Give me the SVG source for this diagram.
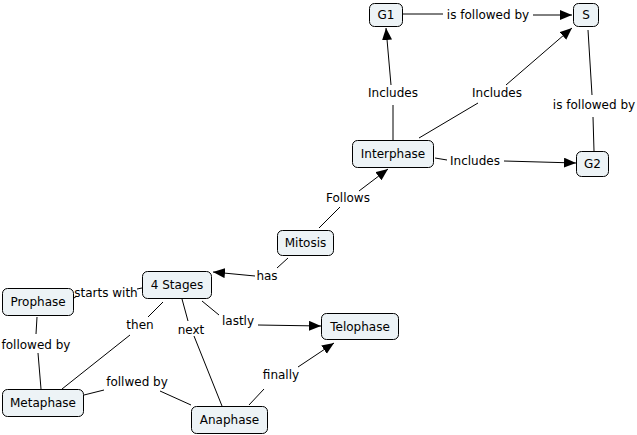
<svg xmlns="http://www.w3.org/2000/svg" width="637" height="435" viewBox="0 0 637 435">
<style>
.node rect{fill:#edf3f6;stroke:#000;stroke-width:1}
text{font-family:"DejaVu Sans",Verdana,sans-serif;font-size:12px;fill:#000;text-anchor:middle}
.conn line{stroke:#000;stroke-width:1}
.arr{marker-end:url(#ah)}
</style>
<defs>
<marker id="ah" markerUnits="userSpaceOnUse" markerWidth="13" markerHeight="11" refX="12" refY="5" orient="auto">
<path d="M0,0 L12,5 L0,10 z" fill="#000"/>
</marker>
</defs>
<rect width="637" height="435" fill="#fff"/>
<g id="connectors" class="conn">
<line x1="403" y1="14" x2="443" y2="14"/>
<line class="arr" x1="533" y1="15" x2="572" y2="15"/>
<line x1="393" y1="140" x2="393" y2="105"/>
<line class="arr" x1="391" y1="85" x2="386" y2="28"/>
<line x1="419" y1="138" x2="478" y2="103"/>
<line class="arr" x1="506" y1="85" x2="572" y2="28"/>
<line x1="588" y1="30" x2="592" y2="95"/>
<line x1="593" y1="117" x2="594" y2="151"/>
<line x1="435" y1="158" x2="447" y2="160"/>
<line class="arr" x1="504" y1="161" x2="576" y2="163"/>
<line x1="319" y1="228" x2="340" y2="207"/>
<line class="arr" x1="359" y1="191" x2="388" y2="169"/>
<line x1="288" y1="258" x2="277" y2="268"/>
<line class="arr" x1="255" y1="276" x2="213" y2="272"/>
<line x1="74" y1="298" x2="77" y2="296"/>
<line x1="137" y1="289" x2="142" y2="288"/>
<line x1="37" y1="317" x2="36" y2="334"/>
<line x1="38" y1="353" x2="41" y2="389"/>
<line x1="163" y1="302" x2="148" y2="317"/>
<line x1="130" y1="335" x2="62" y2="389"/>
<line x1="182" y1="299" x2="188" y2="321"/>
<line x1="194" y1="336" x2="222" y2="406"/>
<line x1="202" y1="301" x2="219" y2="315"/>
<line class="arr" x1="258" y1="325" x2="321" y2="326"/>
<line x1="84" y1="395" x2="104" y2="390"/>
<line x1="160" y1="391" x2="191" y2="405"/>
<line x1="249" y1="405" x2="264" y2="389"/>
<line class="arr" x1="298" y1="367" x2="334" y2="343"/>
</g>
<g id="labels">
<text x="488" y="19">is followed by</text>
<text x="393" y="97">Includes</text>
<text x="497" y="97">Includes</text>
<text x="594" y="109">is followed by</text>
<text x="475" y="165">Includes</text>
<text x="348" y="202">Follows</text>
<text x="267" y="280">has</text>
<text x="106" y="297">starts with</text>
<text x="36" y="349">followed by</text>
<text x="140" y="329">then</text>
<text x="191" y="334">next</text>
<text x="238" y="325">lastly</text>
<text x="137" y="386">follwed by</text>
<text x="281" y="379">finally</text>
</g>
<g id="G1" class="node"><rect x="369.5" y="3.5" width="33" height="23" rx="5"/><text x="386" y="19">G1</text></g>
<g id="S" class="node"><rect x="573.5" y="3.5" width="25" height="23" rx="5"/><text x="586" y="19">S</text></g>
<g id="Interphase" class="node"><rect x="352.5" y="140.5" width="81" height="27" rx="5"/><text x="393" y="158">Interphase</text></g>
<g id="G2" class="node"><rect x="576.5" y="151.5" width="32" height="25" rx="5"/><text x="592.5" y="168">G2</text></g>
<g id="Mitosis" class="node"><rect x="277.5" y="230.5" width="56" height="25" rx="5"/><text x="305.5" y="247">Mitosis</text></g>
<g id="FourStages" class="node"><rect x="142.5" y="271.5" width="69" height="27" rx="5"/><text x="177" y="289">4 Stages</text></g>
<g id="Prophase" class="node"><rect x="2.5" y="288.5" width="71" height="27" rx="5"/><text x="38" y="306">Prophase</text></g>
<g id="Telophase" class="node"><rect x="321.5" y="313.5" width="77" height="26" rx="5"/><text x="360" y="331">Telophase</text></g>
<g id="Metaphase" class="node"><rect x="2.5" y="389.5" width="81" height="27" rx="5"/><text x="43" y="407">Metaphase</text></g>
<g id="Anaphase" class="node"><rect x="191.5" y="406.5" width="76" height="27" rx="5"/><text x="229.5" y="424">Anaphase</text></g>
</svg>
